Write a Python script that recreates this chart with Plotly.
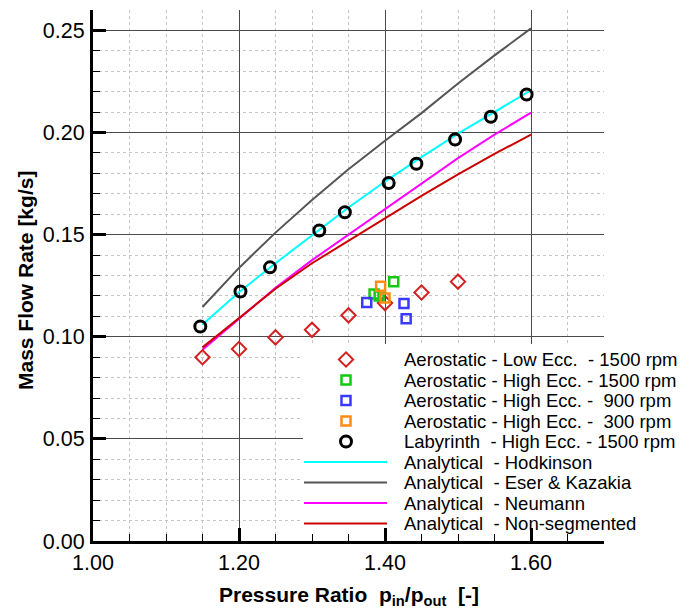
import plotly.graph_objects as go

# ---------------- data ----------------
low_ecc_1500_x = [1.15, 1.20, 1.25, 1.30, 1.35, 1.40, 1.45, 1.50]
low_ecc_1500_y = [0.0900, 0.0940, 0.0997, 0.1034, 0.1105, 0.1165, 0.1217, 0.1270]

high_ecc_1500_x = [1.385, 1.392, 1.412]
high_ecc_1500_y = [0.1209, 0.1200, 0.1270]

high_ecc_900_x = [1.375, 1.426, 1.429]
high_ecc_900_y = [0.1168, 0.1163, 0.1088]

high_ecc_300_x = [1.394, 1.400]
high_ecc_300_y = [0.1247, 0.1190]

labyrinth_x = [1.147, 1.202, 1.2425, 1.310, 1.345, 1.405, 1.443, 1.496, 1.545, 1.594]
labyrinth_y = [0.1050, 0.1222, 0.1340, 0.1520, 0.1610, 0.1753, 0.1847, 0.1966, 0.2077, 0.2186]

analytic_x = [1.15, 1.20, 1.25, 1.30, 1.35, 1.40, 1.45, 1.50, 1.55, 1.60]
hodkinson_y = [0.1060, 0.1218, 0.1360, 0.1497, 0.1633, 0.1760, 0.1880, 0.1995, 0.2100, 0.2207]
eser_y      = [0.1146, 0.1337, 0.1510, 0.1670, 0.1820, 0.1960, 0.2095, 0.2240, 0.2378, 0.2510]
neumann_y   = [0.0936, 0.1090, 0.1240, 0.1375, 0.1500, 0.1628, 0.1750, 0.1875, 0.1990, 0.2097]
nonseg_y    = [0.0948, 0.1093, 0.1235, 0.1360, 0.1470, 0.1580, 0.1690, 0.1795, 0.1895, 0.1990]

x_tickvals = [1.00, 1.20, 1.40, 1.60]
x_ticktext = ["1.00", "1.20", "1.40", "1.60"]
y_tickvals = [0.00, 0.05, 0.10, 0.15, 0.20, 0.25]
y_ticktext = ["0.00", "0.05", "0.10", "0.15", "0.20", "0.25"]

x_title = "<b>Pressure Ratio\u00a0 p<sub>in</sub>/p<sub>out</sub>\u00a0 [-]</b>"
y_title = "<b>Mass Flow Rate [kg/s]</b>"

legend_labels = [
    "Aerostatic - Low Ecc.\u00a0 - 1500 rpm",
    "Aerostatic - High Ecc. - 1500 rpm",
    "Aerostatic - High Ecc. -\u00a0 900 rpm",
    "Aerostatic - High Ecc. -\u00a0 300 rpm",
    "Labyrinth\u00a0 - High Ecc. - 1500 rpm",
    "Analytical\u00a0 - Hodkinson",
    "Analytical\u00a0 - Eser & Kazakia",
    "Analytical\u00a0 - Neumann",
    "Analytical\u00a0 - Non-segmented",
]

# ---------------- styles ----------------
FONT = "Liberation Sans, Arial, Helvetica, sans-serif"
C_RED_M = "#d42020"
C_GREEN = "#14c814"
C_BLUE = "#3a3aff"
C_ORANGE = "#ff8a14"
C_BLACK = "#000000"
C_CYAN = "#00ffff"
C_GRAY = "#555555"
C_MAG = "#ff00ff"
C_RED = "#cc0000"

marker_styles = [
    dict(symbol="diamond-open", size=11, color=C_RED_M, line=dict(width=2, color=C_RED_M)),
    dict(symbol="square-open", size=9, color=C_GREEN, line=dict(width=2.5, color=C_GREEN)),
    dict(symbol="square-open", size=9, color=C_BLUE, line=dict(width=2.5, color=C_BLUE)),
    dict(symbol="square-open", size=9, color=C_ORANGE, line=dict(width=2.5, color=C_ORANGE)),
    dict(symbol="circle-open", size=11, color=C_BLACK, line=dict(width=3, color=C_BLACK)),
]
line_colors = [C_CYAN, C_GRAY, C_MAG, C_RED]

fig = go.Figure()

# analytical curves
for yv, col in zip([hodkinson_y, eser_y, neumann_y, nonseg_y], line_colors):
    fig.add_trace(go.Scatter(x=analytic_x, y=yv, mode="lines",
                             line=dict(color=col, width=2), showlegend=False))

# measurement points
for (xs, ys), ms in zip([(low_ecc_1500_x, low_ecc_1500_y),
                         (high_ecc_1500_x, high_ecc_1500_y),
                         (high_ecc_900_x, high_ecc_900_y),
                         (high_ecc_300_x, high_ecc_300_y),
                         (labyrinth_x, labyrinth_y)], marker_styles):
    fig.add_trace(go.Scatter(x=xs, y=ys, mode="markers", marker=ms,
                             showlegend=False, cliponaxis=False))

# ---------------- custom legend (pixel-coordinate overlay axes) ----------------
L_X0, L_X1, R_X0, R_X1 = 93, 604, 541, 10
row_y0, row_dy = 359.5, 20.5
mark_x, line_x0, line_x1, text_x = 346, 304, 387, 402

for i, ms in enumerate(marker_styles):
    fig.add_trace(go.Scatter(x=[mark_x], y=[row_y0 + i * row_dy], mode="markers",
                             marker=ms, xaxis="x2", yaxis="y2",
                             showlegend=False, cliponaxis=False, hoverinfo="skip"))

shapes = [
    dict(type="rect", xref="x", yref="y", x0=1.2877, x1=1.75, y0=0.0012, y1=0.0965,
         fillcolor="white", line=dict(width=0), layer="between"),
]
for j, col in enumerate(line_colors):
    yy = row_y0 + (5 + j) * row_dy
    shapes.append(dict(type="line", xref="x2", yref="y2", x0=line_x0, x1=line_x1,
                       y0=yy, y1=yy, line=dict(color=col, width=2), layer="above"))

annotations = []
for i, lab in enumerate(legend_labels):
    annotations.append(dict(x=text_x, y=row_y0 + i * row_dy, xref="x2", yref="y2",
                            text=lab, showarrow=False, xanchor="left", yanchor="middle",
                            font=dict(family=FONT, size=18.5, color="black")))

# axis titles in paper coordinates
annotations.append(dict(x=0.501, y=-0.1036, xref="paper", yref="paper", text=x_title,
                        showarrow=False, xanchor="center", yanchor="middle",
                        font=dict(family=FONT, size=21, color="black")))
annotations.append(dict(x=-0.1331, y=0.4915, xref="paper", yref="paper", text=y_title,
                        showarrow=False, xanchor="center", yanchor="middle", textangle=-90,
                        font=dict(family=FONT, size=21, color="black")))

fig.update_layout(
    width=691, height=610,
    margin=dict(l=93, r=87, t=10, b=69, pad=0, autoexpand=False),
    paper_bgcolor="white", plot_bgcolor="white",
    font=dict(family=FONT, color="black"),
    showlegend=False,
    shapes=shapes,
    annotations=annotations,
    xaxis=dict(
        range=[1.0, 1.7], tickmode="array", tickvals=x_tickvals, ticktext=x_ticktext,
        ticks="inside", ticklen=13, tickwidth=2.5, tickcolor="black",
        showline=True, linewidth=3, linecolor="black", mirror=False,
        showgrid=True, gridcolor="#4a4a4a", gridwidth=1.3, zeroline=False,
        tickfont=dict(family=FONT, size=21.5, color="black"),
        ticklabelstandoff=0, automargin=False,
        minor=dict(dtick=0.05, tick0=1.0, ticks="inside", ticklen=7, tickwidth=1,
                   tickcolor="black", showgrid=True, gridcolor="#c4c4c4",
                   griddash="dot", gridwidth=1),
    ),
    yaxis=dict(
        range=[0.0, 0.26], tickmode="array", tickvals=y_tickvals, ticktext=y_ticktext,
        ticks="inside", ticklen=13, tickwidth=2.5, tickcolor="black",
        showline=True, linewidth=3, linecolor="black", mirror=False,
        showgrid=True, gridcolor="#4a4a4a", gridwidth=1.3, zeroline=False,
        tickfont=dict(family=FONT, size=21.5, color="black"),
        ticklabelstandoff=1, automargin=False,
        minor=dict(dtick=0.01, tick0=0.0, ticks="inside", ticklen=7, tickwidth=1,
                   tickcolor="black", showgrid=True, gridcolor="#c4c4c4",
                   griddash="dot", gridwidth=1),
    ),
    xaxis2=dict(overlaying="x", range=[L_X0, L_X1], visible=False, fixedrange=True),
    yaxis2=dict(overlaying="y", range=[R_X0, R_X1], visible=False, fixedrange=True),
)

fig.write_html("out.html")
